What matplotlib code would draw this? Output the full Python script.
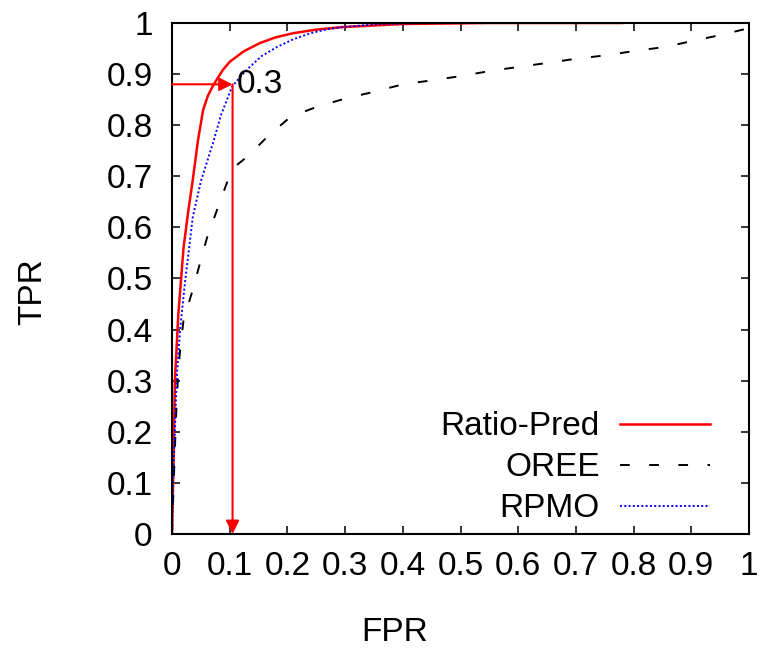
import numpy as np
import matplotlib
matplotlib.use("Agg")
import matplotlib.pyplot as plt

plt.rcParams["font.family"] = ["Liberation Sans", "DejaVu Sans"]

# Ratio-Pred
ratio_fpr = [0, 0.002, 0.005, 0.011, 0.02, 0.028, 0.036, 0.045, 0.054, 0.062, 0.07, 0.078, 0.088,
             0.10, 0.125, 0.153, 0.18, 0.21, 0.25, 0.296, 0.40, 0.55, 0.78]
ratio_tpr = [0, 0.105, 0.30, 0.43, 0.56, 0.63, 0.693, 0.77, 0.83, 0.857, 0.875, 0.89, 0.908,
             0.924, 0.945, 0.961, 0.972, 0.98, 0.987, 0.992, 0.998, 1.0, 1.0]

# OREE
oree_fpr = [0, 0.003, 0.005, 0.007, 0.01, 0.014, 0.02, 0.035, 0.049, 0.062, 0.08, 0.097, 0.11, 0.13,
            0.165, 0.205, 0.251, 0.303, 0.349, 0.40, 0.452, 0.50, 0.551, 0.60, 0.652, 0.70, 0.754,
            0.80, 0.854, 0.903, 0.953, 1.0]
oree_tpr = [0, 0.10, 0.165, 0.23, 0.30, 0.36, 0.419, 0.474, 0.532, 0.585, 0.64, 0.693, 0.72, 0.738,
            0.777, 0.816, 0.836, 0.853, 0.865, 0.88, 0.888, 0.896, 0.906, 0.914, 0.922, 0.93, 0.937,
            0.945, 0.953, 0.965, 0.977, 0.99]

# RPMO
rpmo_fpr = [0, 0.002, 0.008, 0.014, 0.023, 0.036, 0.05, 0.071, 0.085, 0.104, 0.12, 0.135, 0.155,
            0.182, 0.21, 0.24, 0.27, 0.296, 0.36, 0.44]
rpmo_tpr = [0, 0.105, 0.30, 0.40, 0.497, 0.62, 0.69, 0.765, 0.82, 0.875, 0.897, 0.914, 0.935,
            0.953, 0.968, 0.98, 0.988, 0.992, 0.998, 1.0]

# threshold marker
thr_fpr = 0.105
thr_tpr = 0.88
thr_label = "0.3"

ticks = [0, 0.1, 0.2, 0.3, 0.4, 0.5, 0.6, 0.7, 0.8, 0.9, 1.0]
tick_labels = ["0", "0.1", "0.2", "0.3", "0.4", "0.5", "0.6", "0.7", "0.8", "0.9", "1"]

fs = 24

fig = plt.figure(figsize=(7.73, 6.51), dpi=100)
ax = fig.add_axes([0.2225, 0.1797, 0.7465, 0.785])

ax.plot(ratio_fpr, ratio_tpr, color="red", lw=1.8, label="Ratio-Pred")
ax.plot(oree_fpr, oree_tpr, color="black", lw=1.4, linestyle=(0, (5, 10)), label="OREE")
ax.plot(rpmo_fpr, rpmo_tpr, color="blue", lw=1.4, linestyle=(0, (1, 1.2)), label="RPMO")

arrow = dict(arrowstyle="-|>", color="red", lw=1.5, mutation_scale=20, shrinkA=0, shrinkB=0)
ax.annotate("", xy=(thr_fpr, thr_tpr), xytext=(0, thr_tpr), arrowprops=arrow)
ax.annotate("", xy=(thr_fpr, 0), xytext=(thr_fpr, thr_tpr), arrowprops=arrow)
ax.text(thr_fpr + 0.008, thr_tpr, thr_label, fontsize=fs, va="center", ha="left")

ax.set_xlim(0, 1)
ax.set_ylim(0, 1)
ax.set_xticks(ticks)
ax.set_xticklabels(tick_labels)
ax.set_yticks(ticks)
ax.set_yticklabels(tick_labels)
ax.tick_params(direction="in", length=6, width=1.1, top=True, right=True, labelsize=fs, pad=12)
ax.tick_params(axis="y", pad=14)
for s in ax.spines.values():
    s.set_linewidth(1.5)

ax.set_xlabel("FPR", fontsize=fs, va="center")
ax.set_ylabel("TPR", fontsize=fs, va="center")
ax.xaxis.set_label_coords(0.386, -0.192)
ax.yaxis.set_label_coords(-0.241, 0.474)

ax.legend(loc="upper right", bbox_to_anchor=(0.932, 0.24), frameon=False, fontsize=fs,
          markerfirst=False, handlelength=2.7, handletextpad=0.6, labelspacing=0.3,
          borderpad=0, borderaxespad=0)

fig.savefig("out.png", dpi=100)
